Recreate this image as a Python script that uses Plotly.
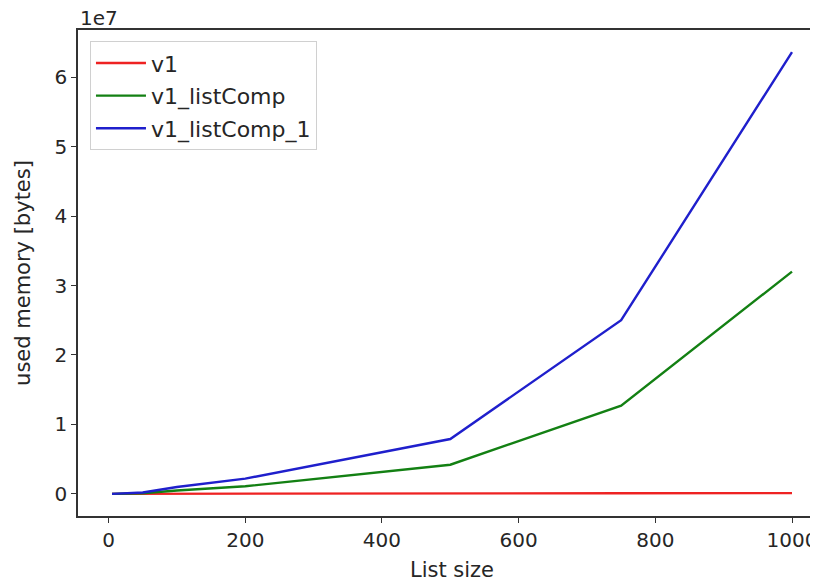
import plotly.graph_objects as go

list_size = [5, 50, 100, 200, 500, 750, 1000]
v1 = [1.0e4, 2.0e4, 3.0e4, 5.0e4, 8.0e4, 1.0e5, 1.2e5]
v1_listComp = [0.0, 0.1e6, 0.5e6, 1.1e6, 4.2e6, 12.7e6, 32.0e6]
v1_listComp_1 = [0.0, 0.2e6, 1.0e6, 2.2e6, 7.9e6, 25.0e6, 63.6e6]

y_tick_vals = [0, 1e7, 2e7, 3e7, 4e7, 5e7, 6e7]
y_tick_text = ["0", "1", "2", "3", "4", "5", "6"]
x_tick_vals = [0, 200, 400, 600, 800, 1000]

FONT = "DejaVu Sans"
AX = "#333333"
FS = 20
FS_TITLE = 21
FS_LEG = 22

fig = go.Figure()
fig.add_trace(go.Scatter(x=list_size, y=v1, mode="lines", name="v1", legendgroup="a",
                         line=dict(color="#ee2222", width=2.4)))
fig.add_trace(go.Scatter(x=list_size, y=v1_listComp, mode="lines", name="v1_listComp",
                         legendgroup="b", line=dict(color="#138013", width=2.4)))
fig.add_trace(go.Scatter(x=list_size, y=v1_listComp_1, mode="lines", name="v1_listComp_1",
                         legendgroup="c", line=dict(color="#1f1fcc", width=2.4)))

fig.update_layout(
    width=818, height=585,
    paper_bgcolor="white", plot_bgcolor="white",
    margin=dict(l=70, r=0, t=22, b=77),
    font=dict(family=FONT, size=FS, color="#262626"),
    showlegend=True,
    legend=dict(x=0.016, y=0.977, xanchor="left", yanchor="top",
                bgcolor="rgba(255,255,255,0.9)", bordercolor="#d0d0d0", borderwidth=1,
                font=dict(size=FS_LEG, family=FONT, color="#262626"),
                tracegroupgap=1, itemwidth=50),
    xaxis=dict(range=[-44.75, 1049.75], tickvals=x_tick_vals, showgrid=False, zeroline=False,
               automargin=False,
               showline=True, mirror=True, linecolor=AX, linewidth=1.5,
               ticks="outside", ticklen=5, tickcolor=AX, tickwidth=1.2,
               title=dict(text="List size", font=dict(size=FS_TITLE, family=FONT), standoff=12)),
    yaxis=dict(range=[-3.18e6, 66.78e6], tickvals=y_tick_vals, ticktext=y_tick_text,
               showgrid=False, zeroline=False, automargin=False,
               showline=True, mirror=True, linecolor=AX, linewidth=1.5,
               ticks="outside", ticklen=5, tickcolor=AX, tickwidth=1.2,
               title=dict(text="used memory [bytes]", font=dict(size=FS_TITLE, family=FONT), standoff=18)),
)
fig.add_annotation(text="1e7", xref="paper", yref="paper", x=0.0, y=1.0,
                   xanchor="left", yanchor="bottom", showarrow=False, yshift=-2,
                   font=dict(size=FS, family=FONT, color="#262626"))

fig.write_html("out.html")
